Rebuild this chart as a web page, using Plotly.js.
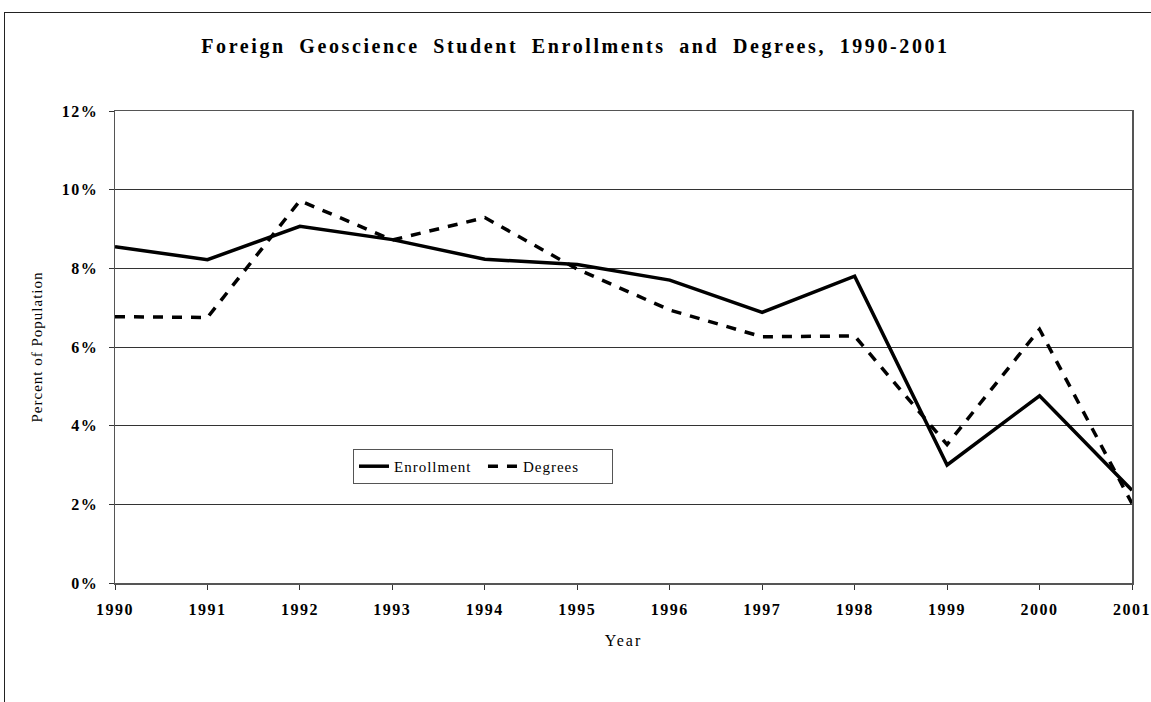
<!DOCTYPE html>
<html>
<head>
<meta charset="utf-8">
<script src="https://cdn.plot.ly/plotly-3.0.1.min.js"></script>
<style>
html,body{margin:0;padding:0;background:#fff;overflow:hidden;}
#chart{width:1151px;height:702px;position:absolute;left:0;top:0;}
#frame{position:absolute;left:4px;top:12px;width:1200px;height:800px;border:1px solid #222;pointer-events:none;}
#chart .gtitle{letter-spacing:2.6px;word-spacing:6px;}
#chart .xtick text, #chart .ytick text{letter-spacing:1.5px;}
#chart .xtitle{letter-spacing:2px;}
#chart .ytitle{letter-spacing:1px;}
#chart .legendtext{letter-spacing:1px;}
</style>
</head>
<body>
<div id="chart"></div>
<div id="frame"></div>
<script>
const years = [1990,1991,1992,1993,1994,1995,1996,1997,1998,1999,2000,2001];
const enrollment = [8.55,8.22,9.07,8.73,8.23,8.10,7.70,6.88,7.80,3.00,4.76,2.36];
const degrees = [6.77,6.75,9.72,8.72,9.29,7.98,6.94,6.26,6.28,3.52,6.45,2.02];
const yTickVals = [0,2,4,6,8,10,12];
const yTickText = ['0%','2%','4%','6%','8%','10%','12%'];

const serif = 'Liberation Serif, Times New Roman, serif';

const traces = [
  {x: years, y: enrollment, name: 'Enrollment', type: 'scatter', mode: 'lines',
   line: {color: '#000', width: 3.5}},
  {x: years, y: degrees, name: 'Degrees', type: 'scatter', mode: 'lines',
   line: {color: '#000', width: 3.5, dash: '10px,9px'}}
];

const layout = {
  width: 1151, height: 702,
  margin: {l: 115, r: 19, t: 111, b: 119},
  paper_bgcolor: 'rgba(0,0,0,0)', plot_bgcolor: '#fff',
  title: {text: 'Foreign Geoscience Student Enrollments and Degrees, 1990-2001',
          font: {family: serif, size: 20, color: '#000', weight: 'bold'},
          x: 0.5, xanchor: 'center', y: 0.935, yanchor: 'middle'},
  font: {family: serif, color: '#000'},
  xaxis: {
    range: [1990, 2001], tickvals: years, ticktext: years.map(String),
    tickfont: {family: serif, size: 16, weight: 'bold'},
    ticks: 'outside', ticklen: 5, tickcolor: '#333', ticklabelstandoff: 6,
    showline: true, linecolor: '#555', linewidth: 1.5, mirror: true,
    showgrid: false, zeroline: false,
    title: {text: 'Year', font: {family: serif, size: 16}, standoff: 18}
  },
  yaxis: {
    range: [0, 12], tickvals: yTickVals, ticktext: yTickText,
    tickfont: {family: serif, size: 16, weight: 'bold'},
    ticks: 'outside', ticklen: 5, tickcolor: '#333', ticklabelstandoff: 7,
    showline: true, linecolor: '#555', linewidth: 1.5, mirror: true,
    showgrid: true, gridcolor: '#333', gridwidth: 1, zeroline: false,
    title: {text: 'Percent of Population', font: {family: serif, size: 15}, standoff: 20}
  },
  legend: {
    orientation: 'h', x: 0.234, y: 0.284, xanchor: 'left', yanchor: 'top',
    bordercolor: '#555', borderwidth: 1, bgcolor: '#fff',
    font: {family: serif, size: 15}, itemwidth: 30, entrywidth: 84, tracegroupgap: 0
  },
  showlegend: true
};

Plotly.newPlot('chart', traces, layout, {displayModeBar: false, staticPlot: true});
</script>
</body>
</html>
